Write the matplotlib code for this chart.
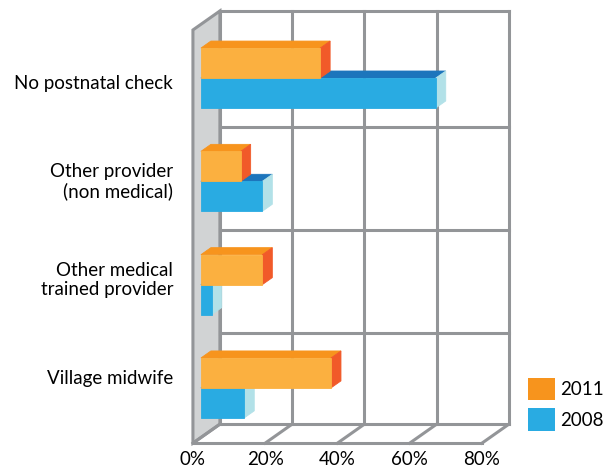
import numpy as np
import matplotlib
matplotlib.use('Agg')
import matplotlib.pyplot as plt
from matplotlib.patches import Polygon, Patch

# data (percent)
categories = ['No postnatal check', 'Other provider\n(non medical)',
              'Other medical\ntrained provider', 'Village midwife']
values_2011 = [33, 11, 17, 36]
values_2008 = [65, 17, 3, 12]
x_ticks = [0, 20, 40, 60, 80]
tick_labels = ['0%', '20%', '40%', '60%', '80%']

plt.rcParams['font.family'] = ['Lato', 'DejaVu Sans']

fig = plt.figure(figsize=(6.16, 4.70), dpi=100)
ax = fig.add_axes([0, 0, 1, 1])
ax.set_xlim(-53.4, 117.1)
ax.set_ylim(3.74, -0.81)
ax.axis('off')

# oblique offset for the full depth of the box (x in %, y in category units)
DX, DY = 7.47, -0.184


def proj(x, y, d):
    return (x + d * DX, y + d * DY)


grid_c = '#939598'
lw = 2.2
top, floor = -0.52, 3.48
xmax = x_ticks[-1]

# left side wall
side = [proj(0, top, 0), proj(0, top, 1), proj(0, floor, 1), proj(0, floor, 0)]
ax.add_patch(Polygon(side, closed=True, fc='#D1D3D4', ec=grid_c, lw=lw, zorder=1))

# back wall grid
for xt in x_ticks:
    p0, p1 = proj(xt, top, 1), proj(xt, floor, 1)
    ax.plot([p0[0], p1[0]], [p0[1], p1[1]], color=grid_c, lw=lw, zorder=1)
for yg in [top] + list(np.arange(len(categories) - 1) + 0.6):
    p0, p1 = proj(0, yg, 1), proj(xmax, yg, 1)
    ax.plot([p0[0], p1[0]], [p0[1], p1[1]], color=grid_c, lw=lw, zorder=1)

# floor
for d in (0, 1):
    p0, p1 = proj(0, floor, d), proj(xmax, floor, d)
    ax.plot([p0[0], p1[0]], [p0[1], p1[1]], color=grid_c, lw=lw, zorder=1)
for xt in x_ticks:
    p0, p1 = proj(xt, floor, 0), proj(xt, floor, 1)
    ax.plot([p0[0], p1[0]], [p0[1], p1[1]], color=grid_c, lw=lw, zorder=1)

for xt, lab in zip(x_ticks, tick_labels):
    ax.text(xt, 3.635, lab, ha='center', va='center', fontsize=13.5)

# bars
d0, d1 = 0.296, 0.666
bh = 0.29
col_2011 = ('#FBB040', '#F7941D', '#F15A29')   # front, top, side
col_2008 = ('#29ABE2', '#1C75BC', '#B2E1E8')


def draw_bar(v, y0, y1, cols):
    front, topc, sidec = cols
    topf = [proj(0, y0, d0), proj(v, y0, d0), proj(v, y0, d1), proj(0, y0, d1)]
    sidef = [proj(v, y0, d0), proj(v, y1, d0), proj(v, y1, d1), proj(v, y0, d1)]
    frontf = [proj(0, y0, d0), proj(v, y0, d0), proj(v, y1, d0), proj(0, y1, d0)]
    ax.add_patch(Polygon(topf, closed=True, fc=topc, ec=topc, lw=0.6, zorder=3))
    ax.add_patch(Polygon(sidef, closed=True, fc=sidec, ec=sidec, lw=0.6, zorder=3))
    ax.add_patch(Polygon(frontf, closed=True, fc=front, ec=front, lw=0.6, zorder=3))


for i, cat in enumerate(categories):
    draw_bar(values_2008[i], i, i + bh, col_2008)
    draw_bar(values_2011[i], i - bh, i, col_2011)
    ax.text(-5.5, i * 0.95, cat, ha='right', va='center', fontsize=13.5,
            multialignment='right', linespacing=1.15)

handles = [Patch(fc='#F7941D', ec='none', label='2011'),
           Patch(fc='#29ABE2', ec='none', label='2008')]
fig.legend(handles=handles, loc='center left', bbox_to_anchor=(0.829, 0.14),
           frameon=False, fontsize=13.5, handlelength=1.45, handleheight=1.45,
           handletextpad=0.3, labelspacing=0.45)

fig.savefig('out.png', dpi=100)
